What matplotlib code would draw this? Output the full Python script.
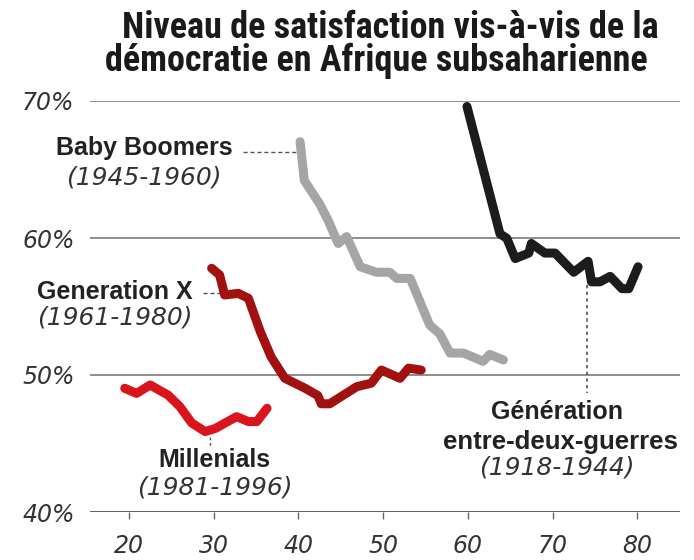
import matplotlib
matplotlib.use("Agg")
import matplotlib.pyplot as plt
from matplotlib import font_manager as fm

# ---------------- data ----------------
mill_age = [19.5, 20.9, 22.5, 24.6, 26.0, 27.4, 29.0, 30.2, 32.7, 34.1, 35.1, 36.3]
mill_val = [49.03, 48.66, 49.27, 48.54, 47.7, 46.5, 45.87, 46.1, 46.96, 46.6, 46.6, 47.57]

genx_age = [29.76, 30.7, 31.3, 32.9, 34.1, 35.5, 36.8, 38.4, 40.8, 42.3, 42.7, 43.7,
            46.9, 48.6, 49.8, 52.0, 53.0, 54.5]
genx_val = [57.79, 57.3, 55.84, 55.96, 55.6, 53.17, 51.3, 49.76, 49.03, 48.5, 47.9, 47.9,
            49.15, 49.4, 50.36, 49.76, 50.5, 50.36]

boom_age = [40.2, 40.7, 42.5, 43.5, 44.7, 45.7, 47.3, 49.2, 50.8, 51.6, 53.2, 55.5,
            56.7, 57.9, 59.5, 61.8, 62.6, 64.2]
boom_val = [67.03, 64.2, 62.5, 61.3, 59.6, 60.1, 57.9, 57.5, 57.5, 57.05, 57.05, 53.65,
            53.0, 51.6, 51.6, 51.0, 51.5, 51.1]

inter_age = [59.9, 63.8, 64.6, 65.6, 67.2, 67.5, 69.1, 70.3, 72.5, 74.2, 74.6, 75.6,
             76.8, 78.2, 79.0, 80.1]
inter_val = [69.6, 60.3, 59.98, 58.5, 58.9, 59.6, 58.9, 58.9, 57.5, 58.3, 56.8, 56.8,
             57.2, 56.3, 56.3, 57.9]

x_ticks = [20, 30, 40, 50, 60, 70, 80]
y_ticks = [40, 50, 60, 70]
y_labels = ["40%", "50%", "60%", "70%"]

title_l1 = "Niveau de satisfaction vis-à-vis de la"
title_l2 = "démocratie en Afrique subsaharienne"

# ---------------- fonts ----------------
def find_condensed_bold():
    prefs = ["Roboto Condensed", "Liberation Sans Narrow", "Open Sans Condensed",
             "Noto Sans Condensed", "DejaVu Sans Condensed"]
    cands = []
    for f in fm.fontManager.ttflist:
        fname = f.fname.lower().replace("-", "").replace("_", "").replace(" ", "")
        w = f.weight if isinstance(f.weight, int) else {"bold": 700, "normal": 400}.get(f.weight, 400)
        is_cond = ("condensed" in fname or "narrow" in fname or
                   str(f.stretch) in ("condensed", "semi-condensed", "extra-condensed"))
        if is_cond and w >= 600 and f.style == "normal" and "semi" not in fname and "extra" not in fname:
            cands.append(f)
    for p in prefs:
        key = p.lower().replace(" ", "")
        for f in cands:
            if key in f.fname.lower().replace("-", "").replace("_", "").replace(" ", "") or \
               key.replace("condensed", "") in f.name.lower().replace(" ", ""):
                return fm.FontProperties(fname=f.fname)
    if cands:
        return fm.FontProperties(fname=cands[0].fname)
    return fm.FontProperties(family="Liberation Sans", weight="bold")

title_fp = find_condensed_bold()
bold_font = "Liberation Sans"
ital_font = "DejaVu Sans"

W, H = 694, 560
fig = plt.figure(figsize=(W / 100, H / 100), dpi=100)
fig.patch.set_facecolor("white")

def fx(px):
    return px / W

def fy(py):
    return 1 - py / H

ax = fig.add_axes([fx(90), fy(512), fx(680) - fx(90), fy(101) - fy(512)])
ax.set_xlim(15.4, 85.05)
ax.set_ylim(40, 70)
for s in ax.spines.values():
    s.set_visible(False)

for y in y_ticks:
    ax.axhline(y, color="#444444" if y == 40 else "#7a7a7a", lw=1.2, zorder=1)

lw = 6.5
kw = dict(lw=lw, solid_capstyle="round", solid_joinstyle="round", clip_on=False, zorder=3)
ax.plot(mill_age, mill_val, color="#d9141c", **kw)
ax.plot(genx_age, genx_val, color="#a1110f", **kw)
ax.plot(boom_age, boom_val, color="#a5a5a5", **kw)
ax.plot(inter_age, inter_val, color="#1c1c1c", **kw)

ax.set_xticks(x_ticks)
ax.set_xticklabels([str(v) for v in x_ticks])
ax.set_yticks(y_ticks)
ax.set_yticklabels(y_labels)
ax.tick_params(axis="x", length=5, width=1, color="#666666", pad=11,
               labelsize=17, labelcolor="#333333")
ax.tick_params(axis="y", length=0, pad=11, labelsize=17, labelcolor="#333333")
for lab in ax.get_xticklabels() + ax.get_yticklabels():
    lab.set_fontstyle("italic")
    lab.set_family(ital_font)

# ---------------- title (size fitted to the reference width) ----------------
t1 = fig.text(fx(390), fy(38), title_l1, ha="center", va="baseline",
              fontproperties=title_fp, color="#1a1a1a")
t2 = fig.text(fx(376), fy(71), title_l2, ha="center", va="baseline",
              fontproperties=title_fp, color="#1a1a1a")
t1.set_fontsize(25)
t2.set_fontsize(25)
renderer = fig.canvas.get_renderer()
w1 = t1.get_window_extent(renderer).width
size = min(25 * 544.0 / w1, 26)
t1.set_fontsize(size)
t2.set_fontsize(size)

# ---------------- annotations ----------------
bold_kw = dict(fontsize=18, fontweight="bold", family=bold_font, color="#222222")
ital_kw = dict(fontsize=18, fontstyle="italic", family=ital_font, color="#333333")
guide = dict(color="#555555", lw=1, zorder=2)

# Baby Boomers
fig.text(fx(233), fy(148), "Baby Boomers", ha="right", va="center", **bold_kw)
fig.text(fx(222), fy(178), "(1945-1960)", ha="right", va="center", **ital_kw)
ax.plot([33.5, 40.0], [66.3, 66.3], ls=(0, (3, 2)), **guide)

# Generation X
fig.text(fx(193), fy(292), "Generation X", ha="right", va="center", **bold_kw)
fig.text(fx(193), fy(318), "(1961-1980)", ha="right", va="center", **ital_kw)
ax.plot([28.7, 31.0], [55.95, 55.95], ls=(0, (3, 2)), **guide)

# Millenials
fig.text(fx(214), fy(460), "Millenials", ha="center", va="center", **bold_kw)
fig.text(fx(215), fy(487), "(1981-1996)", ha="center", va="center", **ital_kw)
ax.plot([29.6, 29.6], [45.5, 44.7], ls=(0, (2, 2)), **guide)

# Generation entre-deux-guerres
fig.text(fx(557), fy(412), "Génération", ha="center", va="center", **bold_kw)
fig.text(fx(560), fy(442), "entre-deux-guerres", ha="center", va="center",
         **dict(bold_kw, fontsize=18.5))
fig.text(fx(557), fy(468), "(1918-1944)", ha="center", va="center", **ital_kw)
ax.plot([74.1, 74.1], [56.6, 48.7], ls=(0, (2, 2)), **dict(guide, lw=1.2))

fig.savefig("out.png", dpi=100, facecolor="white")
